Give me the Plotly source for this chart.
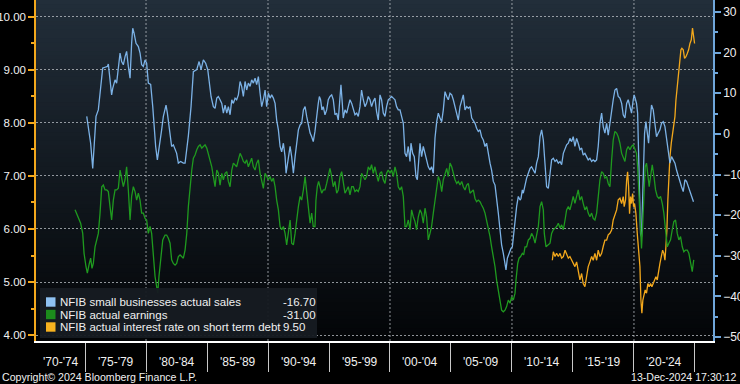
import plotly.graph_objects as go

# ---------------- data ----------------
series_names = [
    "NFIB small businesses actual sales",
    "NFIB actual earnings",
    "NFIB actual interest rate on short term debt",
]

# (year, value) - right axis
sales_points = [
    (1975.14, 4.3), (1975.35, 0.2), (1975.46, -2.3), (1975.63, -8.5), (1975.79, -1.5), (1975.90, 4.3),
    (1976.09, 5.9), (1976.23, 10.0), (1976.34, 14.1), (1976.45, 16.2), (1976.64, 16.4), (1976.83, 16.6),
    (1976.91, 17.2), (1977.05, 13.3), (1977.18, 9.6), (1977.27, 11.2), (1977.38, 12.9), (1977.46, 13.3),
    (1977.59, 12.5), (1977.73, 15.8), (1977.87, 19.9), (1978.00, 17.8), (1978.14, 17.0), (1978.28, 19.0),
    (1978.41, 20.3), (1978.55, 16.6), (1978.69, 13.7), (1978.82, 22.3), (1978.91, 26.0), (1979.02, 24.8),
    (1979.18, 22.3), (1979.37, 21.5), (1979.51, 19.9), (1979.64, 17.0), (1979.78, 16.6), (1979.92, 18.2),
    (1980.05, 17.4), (1980.19, 12.5), (1980.38, 12.2), (1980.55, 6.7), (1980.68, 0.2), (1980.79, -3.1),
    (1980.93, -6.4), (1981.04, -4.4), (1981.15, -2.3), (1981.28, 1.0), (1981.42, 4.3), (1981.64, 7.1),
    (1981.75, 5.1), (1981.86, 2.6), (1981.97, 0.2), (1982.10, -3.1), (1982.24, -2.7), (1982.38, -3.9),
    (1982.51, -4.8), (1982.65, -7.2), (1982.84, -6.8), (1983.06, -7.2), (1983.20, -7.2), (1983.47, -0.5),
    (1983.69, 6.7), (1983.88, 15.3), (1984.16, 15.8), (1984.35, 17.8), (1984.51, 15.8), (1984.70, 18.2),
    (1984.89, 17.4), (1985.06, 15.8), (1985.17, 12.5), (1985.33, 9.2), (1985.52, 6.7), (1985.66, 6.3),
    (1985.80, 8.8), (1985.93, 9.2), (1986.07, 8.4), (1986.21, 7.5), (1986.34, 5.1), (1986.48, 7.1),
    (1986.62, 5.1), (1986.75, 6.7), (1986.89, 4.7), (1987.03, 8.4), (1987.16, 7.5), (1987.30, 8.8),
    (1987.43, 8.4), (1987.57, 9.6), (1987.71, 12.9), (1987.84, 11.7), (1987.98, 9.2), (1988.12, 12.9),
    (1988.25, 10.8), (1988.39, 12.5), (1988.53, 11.7), (1988.66, 13.3), (1988.80, 12.5), (1988.94, 13.7),
    (1989.07, 12.1), (1989.21, 14.1), (1989.35, 10.0), (1989.48, 6.7), (1989.62, 8.4), (1989.76, 10.8),
    (1989.89, 6.7), (1990.03, 10.0), (1990.17, 8.8), (1990.30, 9.6), (1990.44, 8.8), (1990.58, 7.5),
    (1990.71, 3.4), (1990.85, 1.0), (1990.99, -3.1), (1991.12, -4.4), (1991.26, -2.3), (1991.40, -5.6),
    (1991.48, -9.7), (1991.62, -6.4), (1991.81, -3.1), (1991.94, -5.6), (1992.08, -9.7), (1992.22, -5.6),
    (1992.35, -1.5), (1992.49, 1.0), (1992.63, 2.2), (1992.76, 2.6), (1992.90, 5.9), (1993.04, 6.7),
    (1993.17, 4.3), (1993.31, 1.8), (1993.45, 0.2), (1993.58, -0.7), (1993.71, -1.9), (1993.85, 0.6),
    (1993.99, 5.1), (1994.12, 7.5), (1994.21, 9.2), (1994.31, 8.4), (1994.42, 5.9), (1994.53, 6.7),
    (1994.67, 4.7), (1994.81, 5.9), (1994.94, 8.4), (1995.08, 9.2), (1995.22, 9.6), (1995.35, 8.4),
    (1995.49, 4.7), (1995.63, 5.1), (1995.76, 3.4), (1995.90, 8.4), (1995.98, 12.1), (1996.09, 7.5),
    (1996.17, 3.9), (1996.31, 5.9), (1996.45, 5.1), (1996.58, 6.7), (1996.72, 8.4), (1996.86, 7.5),
    (1996.99, 5.9), (1997.13, 4.7), (1997.27, 5.1), (1997.40, 4.3), (1997.54, 6.7), (1997.67, 10.8),
    (1997.81, 8.4), (1997.95, 6.7), (1998.08, 7.5), (1998.22, 9.2), (1998.36, 8.4), (1998.49, 6.7),
    (1998.63, 8.0), (1998.77, 8.8), (1998.90, 5.5), (1999.04, 3.4), (1999.18, 9.6), (1999.31, 8.4),
    (1999.45, 5.1), (1999.59, 4.3), (1999.72, 6.7), (1999.86, 8.4), (2000.00, 8.8), (2000.13, 9.2),
    (2000.27, 8.8), (2000.41, 8.4), (2000.54, 6.7), (2000.68, 5.9), (2000.82, 5.9), (2000.95, 4.3),
    (2001.09, 2.6), (2001.23, -4.8), (2001.36, -5.6), (2001.50, -3.1), (2001.64, -6.8), (2001.72, -2.3),
    (2001.86, -4.8), (2001.99, -5.6), (2002.13, -10.5), (2002.24, -11.3), (2002.35, -6.4), (2002.46, -2.3),
    (2002.59, -5.6), (2002.73, -3.1), (2002.87, -4.8), (2003.00, -6.4), (2003.14, -8.1), (2003.28, -8.9),
    (2003.41, -8.1), (2003.55, -9.7), (2003.69, -1.0), (2003.83, 3.0), (2003.96, 5.1), (2004.10, 3.9),
    (2004.24, 3.0), (2004.37, 5.9), (2004.51, 10.4), (2004.65, 9.2), (2004.78, 8.4), (2004.92, 10.0),
    (2005.06, 9.6), (2005.19, 8.4), (2005.33, 6.7), (2005.47, 4.7), (2005.60, 3.4), (2005.74, 6.7),
    (2005.88, 8.4), (2006.01, 9.6), (2006.15, 5.9), (2006.29, 6.7), (2006.42, 6.3), (2006.56, 6.7),
    (2006.70, 3.9), (2006.83, 3.4), (2006.97, 2.6), (2007.10, 1.4), (2007.24, 0.6), (2007.38, 1.0),
    (2007.51, -0.7), (2007.65, -1.5), (2007.79, -3.1), (2007.92, -2.3), (2008.06, -5.2), (2008.20, -7.2),
    (2008.33, -8.9), (2008.47, -11.7), (2008.61, -12.6), (2008.74, -15.4), (2008.88, -19.5), (2009.02, -23.6),
    (2009.15, -27.3), (2009.29, -29.4), (2009.43, -31.9), (2009.51, -33.5), (2009.62, -30.6), (2009.76, -29.4),
    (2009.92, -28.2), (2010.03, -27.8), (2010.14, -24.5), (2010.25, -22.8), (2010.38, -17.9), (2010.52, -15.4),
    (2010.66, -16.3), (2010.74, -15.9), (2010.85, -13.8), (2010.93, -14.6), (2011.07, -12.2), (2011.20, -10.9),
    (2011.34, -9.7), (2011.48, -8.5), (2011.61, -8.1), (2011.75, -8.9), (2011.89, -9.7), (2012.02, -7.2),
    (2012.16, -5.6), (2012.30, -0.7), (2012.43, 1.0), (2012.57, -1.5), (2012.71, -8.9), (2012.84, -13.0),
    (2012.98, -13.4), (2013.12, -9.7), (2013.25, -6.4), (2013.39, -6.0), (2013.53, -6.8), (2013.66, -6.4),
    (2013.80, -7.2), (2013.94, -6.8), (2014.07, -7.6), (2014.21, -4.8), (2014.35, -3.9), (2014.48, -2.7),
    (2014.62, -2.3), (2014.75, -1.1), (2014.89, -1.9), (2015.02, -0.7), (2015.16, -3.1), (2015.30, -1.1),
    (2015.43, -2.3), (2015.57, -3.9), (2015.71, -3.5), (2015.84, -5.2), (2015.98, -4.8), (2016.12, -5.6),
    (2016.25, -6.4), (2016.39, -6.0), (2016.53, -6.8), (2016.66, -6.4), (2016.80, -6.8), (2016.94, -6.4),
    (2017.07, -3.1), (2017.21, 2.6), (2017.35, 5.1), (2017.48, 1.8), (2017.62, 0.2), (2017.76, 2.6),
    (2017.89, -0.3), (2018.03, 2.6), (2018.17, 5.9), (2018.30, 8.4), (2018.44, 10.8), (2018.58, 11.2),
    (2018.71, 9.2), (2018.85, 8.8), (2018.99, 7.5), (2019.12, 4.7), (2019.26, 3.9), (2019.40, 7.5),
    (2019.53, 8.4), (2019.67, 6.7), (2019.80, 5.1), (2019.94, 8.4), (2020.02, 9.6), (2020.13, 8.4),
    (2020.21, 7.5), (2020.30, 5.1), (2020.38, -8.1), (2020.46, -16.3), (2020.54, -24.5), (2020.62, -25.3),
    (2020.71, -16.3), (2020.79, -6.4), (2020.87, 0.2), (2020.98, 3.0), (2021.09, 0.2), (2021.20, -2.3),
    (2021.31, 2.6), (2021.44, 7.1), (2021.58, 5.9), (2021.72, 1.8), (2021.85, -0.7), (2021.99, 0.2),
    (2022.13, 1.0), (2022.26, 2.6), (2022.40, 3.0), (2022.54, 1.8), (2022.67, -0.7), (2022.81, -3.9),
    (2022.95, -7.2), (2023.08, -5.6), (2023.22, -6.4), (2023.36, -7.2), (2023.49, -8.9), (2023.63, -10.5),
    (2023.77, -11.7), (2023.90, -13.0), (2024.04, -14.2), (2024.18, -11.3), (2024.31, -11.7), (2024.45, -13.0),
    (2024.59, -14.2), (2024.72, -15.4), (2024.88, -16.7),
]

earnings_points = [
    (1974.18, -18.7), (1974.45, -20.4), (1974.64, -22.0), (1974.81, -24.5), (1974.92, -29.4), (1975.08, -32.7),
    (1975.19, -34.3), (1975.35, -31.9), (1975.46, -30.6), (1975.57, -33.1), (1975.68, -31.9), (1975.82, -27.8),
    (1975.96, -26.1), (1976.09, -24.5), (1976.23, -19.5), (1976.37, -13.0), (1976.50, -12.6), (1976.64, -13.8),
    (1976.78, -13.8), (1976.91, -14.2), (1977.05, -17.9), (1977.18, -21.2), (1977.32, -16.3), (1977.46, -13.8),
    (1977.59, -13.8), (1977.73, -13.4), (1977.87, -8.9), (1978.00, -11.3), (1978.14, -13.0), (1978.28, -11.3),
    (1978.41, -8.1), (1978.55, -13.8), (1978.69, -21.2), (1978.82, -15.4), (1978.96, -13.0), (1979.10, -14.2),
    (1979.23, -16.3), (1979.37, -14.6), (1979.51, -16.3), (1979.64, -19.5), (1979.78, -19.5), (1979.92, -20.8),
    (1980.05, -21.2), (1980.19, -24.5), (1980.33, -22.8), (1980.46, -24.5), (1980.60, -31.0), (1980.74, -35.1),
    (1980.87, -37.6), (1980.96, -39.2), (1981.06, -35.1), (1981.20, -30.2), (1981.37, -26.1), (1981.56, -24.9),
    (1981.69, -24.9), (1981.83, -25.7), (1981.97, -26.9), (1982.10, -31.0), (1982.24, -31.9), (1982.38, -32.3),
    (1982.51, -31.9), (1982.65, -30.2), (1982.79, -29.8), (1982.92, -30.2), (1983.06, -30.6), (1983.20, -28.6),
    (1983.34, -24.5), (1983.47, -17.9), (1983.61, -13.0), (1983.75, -8.9), (1983.88, -6.0), (1984.02, -5.2),
    (1984.16, -3.9), (1984.29, -3.1), (1984.43, -2.7), (1984.57, -3.5), (1984.70, -3.1), (1984.84, -2.7),
    (1984.98, -3.5), (1985.11, -4.8), (1985.25, -6.4), (1985.39, -8.1), (1985.52, -10.5), (1985.66, -13.0),
    (1985.80, -8.9), (1985.93, -9.7), (1986.07, -12.6), (1986.21, -9.7), (1986.34, -11.3), (1986.48, -9.7),
    (1986.62, -9.3), (1986.75, -11.7), (1986.89, -13.0), (1987.03, -8.9), (1987.16, -7.2), (1987.30, -7.6),
    (1987.43, -8.1), (1987.57, -6.4), (1987.71, -4.8), (1987.84, -5.6), (1987.98, -6.8), (1988.12, -7.2),
    (1988.25, -6.4), (1988.39, -8.1), (1988.53, -6.8), (1988.66, -6.0), (1988.80, -8.1), (1988.94, -8.9),
    (1989.07, -7.2), (1989.21, -6.4), (1989.35, -9.7), (1989.48, -11.3), (1989.62, -13.4), (1989.76, -9.7),
    (1989.89, -10.5), (1990.03, -11.3), (1990.17, -10.5), (1990.30, -11.7), (1990.44, -10.9), (1990.58, -13.0),
    (1990.71, -16.3), (1990.85, -18.7), (1990.99, -22.8), (1991.12, -23.6), (1991.26, -22.8), (1991.40, -24.5),
    (1991.53, -27.3), (1991.67, -23.6), (1991.81, -21.2), (1991.94, -26.9), (1992.08, -27.3), (1992.22, -24.5),
    (1992.35, -20.4), (1992.49, -17.9), (1992.63, -15.4), (1992.76, -16.3), (1992.90, -13.8), (1993.04, -10.5),
    (1993.17, -14.2), (1993.31, -17.9), (1993.45, -22.0), (1993.58, -19.5), (1993.71, -22.8), (1993.85, -22.8),
    (1993.93, -16.3), (1994.04, -13.0), (1994.15, -11.7), (1994.26, -13.0), (1994.40, -14.6), (1994.53, -13.8),
    (1994.67, -13.8), (1994.81, -12.2), (1994.94, -10.5), (1995.08, -8.5), (1995.22, -10.5), (1995.35, -13.0),
    (1995.49, -11.7), (1995.63, -14.6), (1995.76, -13.8), (1995.90, -10.5), (1996.04, -9.3), (1996.17, -12.6),
    (1996.31, -14.6), (1996.45, -13.8), (1996.58, -13.0), (1996.72, -15.0), (1996.86, -13.0), (1996.99, -13.0),
    (1997.13, -14.2), (1997.27, -13.8), (1997.40, -14.2), (1997.54, -13.0), (1997.67, -9.7), (1997.81, -10.5),
    (1997.95, -11.3), (1998.08, -10.5), (1998.22, -8.1), (1998.36, -8.9), (1998.49, -7.6), (1998.63, -9.7),
    (1998.77, -8.1), (1998.90, -10.1), (1999.04, -11.7), (1999.18, -9.7), (1999.31, -9.3), (1999.45, -11.3),
    (1999.59, -12.2), (1999.72, -9.7), (1999.86, -8.9), (2000.00, -9.7), (2000.13, -8.9), (2000.27, -10.5),
    (2000.41, -8.1), (2000.54, -9.7), (2000.68, -13.0), (2000.82, -13.8), (2000.95, -13.0), (2001.09, -15.4),
    (2001.23, -22.8), (2001.36, -22.8), (2001.50, -21.2), (2001.64, -23.6), (2001.77, -18.7), (2001.91, -20.4),
    (2002.05, -21.6), (2002.18, -23.6), (2002.32, -20.4), (2002.46, -18.7), (2002.59, -19.5), (2002.73, -22.0),
    (2002.87, -18.3), (2003.00, -20.4), (2003.14, -26.1), (2003.28, -24.5), (2003.41, -22.8), (2003.55, -19.5),
    (2003.69, -16.3), (2003.83, -13.8), (2003.96, -10.5), (2004.10, -11.7), (2004.24, -14.2), (2004.37, -11.3),
    (2004.51, -9.7), (2004.65, -8.5), (2004.78, -10.5), (2004.92, -7.2), (2005.06, -8.1), (2005.19, -9.7),
    (2005.33, -11.3), (2005.47, -12.2), (2005.60, -11.7), (2005.74, -12.6), (2005.88, -11.7), (2006.01, -13.0),
    (2006.15, -13.8), (2006.29, -12.6), (2006.42, -12.2), (2006.56, -14.6), (2006.70, -14.2), (2006.83, -13.8),
    (2006.97, -15.9), (2007.10, -16.7), (2007.24, -16.3), (2007.38, -16.7), (2007.51, -17.5), (2007.65, -18.3),
    (2007.79, -19.5), (2007.92, -21.2), (2008.06, -23.2), (2008.20, -25.3), (2008.33, -27.8), (2008.47, -30.2),
    (2008.61, -32.7), (2008.74, -36.0), (2008.88, -38.4), (2009.02, -40.9), (2009.15, -43.4), (2009.29, -43.8),
    (2009.43, -43.4), (2009.56, -42.5), (2009.70, -40.9), (2009.84, -41.7), (2009.97, -40.1), (2010.11, -40.9),
    (2010.25, -39.2), (2010.33, -36.0), (2010.47, -31.9), (2010.58, -30.6), (2010.71, -30.2), (2010.85, -29.4),
    (2010.96, -29.8), (2011.07, -27.8), (2011.20, -27.8), (2011.34, -26.1), (2011.48, -25.7), (2011.61, -24.5),
    (2011.75, -25.3), (2011.89, -26.9), (2012.02, -24.5), (2012.16, -22.8), (2012.30, -17.9), (2012.43, -16.7),
    (2012.57, -18.7), (2012.65, -24.5), (2012.79, -27.8), (2012.98, -27.3), (2013.12, -26.9), (2013.25, -24.5),
    (2013.39, -23.6), (2013.53, -23.2), (2013.66, -22.8), (2013.80, -22.0), (2013.94, -23.2), (2014.07, -22.4),
    (2014.21, -23.6), (2014.35, -21.2), (2014.48, -18.7), (2014.62, -17.9), (2014.75, -18.7), (2014.89, -17.1),
    (2015.02, -15.4), (2015.16, -17.1), (2015.30, -15.4), (2015.43, -13.8), (2015.57, -16.3), (2015.71, -15.4),
    (2015.84, -17.1), (2015.98, -18.7), (2016.12, -17.9), (2016.25, -19.5), (2016.39, -20.4), (2016.53, -19.5),
    (2016.66, -20.8), (2016.80, -21.2), (2016.94, -19.5), (2017.07, -14.6), (2017.21, -11.3), (2017.35, -9.3),
    (2017.48, -9.7), (2017.62, -10.9), (2017.76, -10.5), (2017.89, -12.2), (2018.03, -13.0), (2018.17, -6.4),
    (2018.30, -1.5), (2018.44, 0.6), (2018.58, 0.2), (2018.71, -0.7), (2018.85, -2.3), (2018.99, -4.8),
    (2019.12, -5.6), (2019.26, -6.8), (2019.40, -3.9), (2019.53, -3.1), (2019.67, -3.9), (2019.80, -3.1),
    (2019.94, -2.7), (2020.08, -3.9), (2020.21, -4.8), (2020.30, -8.1), (2020.38, -13.0), (2020.46, -19.5),
    (2020.54, -24.5), (2020.62, -28.2), (2020.71, -22.8), (2020.82, -13.0), (2020.92, -8.1), (2021.03, -7.2),
    (2021.14, -10.5), (2021.25, -13.0), (2021.36, -10.5), (2021.50, -7.6), (2021.64, -10.5), (2021.77, -13.8),
    (2021.91, -15.4), (2022.05, -15.9), (2022.18, -15.4), (2022.32, -17.1), (2022.45, -19.5), (2022.59, -24.5),
    (2022.73, -27.8), (2022.86, -26.9), (2023.00, -26.1), (2023.14, -23.6), (2023.27, -21.6), (2023.41, -21.2),
    (2023.55, -24.5), (2023.68, -26.1), (2023.82, -25.3), (2023.96, -27.8), (2024.09, -29.0), (2024.23, -28.6),
    (2024.37, -28.6), (2024.50, -29.4), (2024.64, -31.9), (2024.78, -33.9), (2024.90, -31.0),
]

# (year, percent) - left axis
rate_points = [
    (2013.31, 5.41), (2013.39, 5.57), (2013.53, 5.48), (2013.66, 5.54), (2013.80, 5.48), (2013.94, 5.54),
    (2014.07, 5.45), (2014.21, 5.48), (2014.35, 5.60), (2014.48, 5.51), (2014.62, 5.45), (2014.75, 5.48),
    (2014.89, 5.41), (2015.02, 5.35), (2015.16, 5.29), (2015.30, 5.38), (2015.43, 5.23), (2015.57, 5.04),
    (2015.71, 5.16), (2015.84, 4.97), (2015.98, 4.91), (2016.12, 5.10), (2016.25, 5.29), (2016.39, 5.38),
    (2016.53, 5.48), (2016.66, 5.41), (2016.80, 5.54), (2016.94, 5.41), (2017.07, 5.60), (2017.21, 5.48),
    (2017.35, 5.54), (2017.48, 5.67), (2017.62, 5.79), (2017.76, 5.79), (2017.89, 5.89), (2018.03, 5.92),
    (2018.17, 5.98), (2018.30, 6.17), (2018.44, 6.29), (2018.58, 6.36), (2018.71, 6.55), (2018.85, 6.58),
    (2018.99, 6.48), (2019.12, 6.61), (2019.20, 6.42), (2019.31, 6.55), (2019.40, 6.92), (2019.48, 7.08),
    (2019.56, 6.80), (2019.64, 6.29), (2019.72, 6.61), (2019.80, 6.48), (2019.89, 6.67), (2019.97, 6.42),
    (2020.05, 6.48), (2020.16, 6.29), (2020.27, 5.92), (2020.38, 5.54), (2020.49, 5.29), (2020.57, 4.66),
    (2020.65, 4.41), (2020.73, 4.66), (2020.82, 4.79), (2020.92, 4.85), (2021.03, 4.79), (2021.14, 4.97),
    (2021.25, 4.91), (2021.36, 4.97), (2021.47, 4.91), (2021.58, 4.97), (2021.69, 5.04), (2021.80, 5.10),
    (2021.91, 5.04), (2022.02, 5.23), (2022.13, 5.35), (2022.24, 5.48), (2022.35, 5.60), (2022.45, 5.54),
    (2022.54, 5.41), (2022.62, 5.67), (2022.70, 5.98), (2022.78, 6.55), (2022.86, 7.05), (2022.95, 7.36),
    (2023.06, 7.62), (2023.17, 7.80), (2023.27, 7.99), (2023.36, 8.12), (2023.44, 8.43), (2023.52, 8.62),
    (2023.60, 8.81), (2023.68, 9.06), (2023.77, 9.25), (2023.85, 9.38), (2023.93, 9.41), (2024.04, 9.38),
    (2024.15, 9.22), (2024.26, 9.25), (2024.37, 9.31), (2024.48, 9.38), (2024.59, 9.50), (2024.70, 9.57),
    (2024.80, 9.79), (2024.89, 9.63), (2024.97, 9.50),
]

sales_years, sales_values = map(list, zip(*sales_points))
earn_years, earn_values = map(list, zip(*earnings_points))
rate_years, rate_values = map(list, zip(*rate_points))

period_starts = [1970, 1975, 1980, 1985, 1990, 1995, 2000, 2005, 2010, 2015, 2020]
period_ends = [1975, 1980, 1985, 1990, 1995, 2000, 2005, 2010, 2015, 2020, 2025]
period_labels = ["'70-'74", "'75-'79", "'80-'84", "'85-'89", "'90-'94", "'95-'99",
                 "'00-'04", "'05-'09", "'10-'14", "'15-'19", "'20-'24"]
decade_grid = [1980, 1990, 2000, 2010, 2020]
left_ticks = [4, 5, 6, 7, 8, 9, 10]
right_ticks = [-50, -40, -30, -20, -10, 0, 10, 20, 30]

# ---------------- style ----------------
W, H = 740, 384
PL, PR, PT, PB = 36, 713, 0, 341          # plot area in pixels
X_RANGE = [1970.98, 2026.48]
LEFT_RANGE = [3.887, 10.32]
RIGHT_RANGE = [-50.98, 32.95]

C_SALES = "#7cb2e6"
C_EARN = "#1f9a1f"
C_RATE = "#f3a81c"
SQ_SALES = "#8fc2f2"
SQ_EARN = "#1c8c1c"
SQ_RATE = "#f7b21f"
C_GRID = "rgba(190,195,200,0.75)"
FONT = "Liberation Sans, Arial, sans-serif"
TXT = "#f0f0f0"


def fx(px):
    return (px - PL) / (PR - PL)


def fy(py):
    return (PB - py) / (PB - PT)


fig = go.Figure()
fig.add_trace(go.Scatter(x=sales_years, y=sales_values, mode="lines", yaxis="y2",
                         line=dict(color=C_SALES, width=1.3), name=series_names[0], showlegend=False))
fig.add_trace(go.Scatter(x=earn_years, y=earn_values, mode="lines", yaxis="y2",
                         line=dict(color=C_EARN, width=1.3), name=series_names[1], showlegend=False))
fig.add_trace(go.Scatter(x=rate_years, y=rate_values, mode="lines", yaxis="y",
                         line=dict(color=C_RATE, width=1.3), name=series_names[2], showlegend=False))

# gradient plot background
N = 80
top = (34, 46, 58)
bot = (3, 5, 7)
for i in range(N):
    t = (i + 0.5) / N
    c = tuple(round(top[k] + (bot[k] - top[k]) * t) for k in range(3))
    fig.add_shape(type="rect", xref="paper", yref="paper", x0=0, x1=1,
                  y0=max(0, 1 - (i + 1) / N - 0.003), y1=1 - i / N,
                  fillcolor="rgb(%d,%d,%d)" % c, line_width=0, layer="below")

# vertical dotted decade grid
for yr in decade_grid:
    fig.add_shape(type="line", xref="x", yref="paper", x0=yr, x1=yr, y0=0, y1=1,
                  line=dict(color=C_GRID, width=1, dash="2px,2px"), layer="below")

# period labels under the axis
for s, e, lab in zip(period_starts, period_ends, period_labels):
    a = max(s, X_RANGE[0])
    b = min(e, X_RANGE[1])
    fig.add_annotation(x=(a + b) / 2, xref="x", y=fy(362), yref="paper", text=lab,
                       showarrow=False, xanchor="center", yanchor="middle",
                       font=dict(family=FONT, size=12, color=TXT))

# legend box (manual, Bloomberg style with last values)
fig.add_shape(type="rect", xref="paper", yref="paper", x0=fx(40), x1=fx(317), y0=fy(338), y1=fy(288),
              fillcolor="rgba(22,27,33,0.96)", line_width=0, layer="above")
rows_y = [302, 314.5, 327]
sq_colors = [SQ_SALES, SQ_EARN, SQ_RATE]
last_vals = [sales_values[-1], earn_values[-1], rate_values[-1]]
for ry, col, name, val in zip(rows_y, sq_colors, series_names, last_vals):
    fig.add_shape(type="rect", xref="paper", yref="paper", x0=fx(46), x1=fx(55.5),
                  y0=fy(ry + 4.7), y1=fy(ry - 4.7), fillcolor=col, line_width=0, layer="above")
    fig.add_annotation(x=fx(58), xref="paper", y=fy(ry), yref="paper", text=name, showarrow=False,
                       xanchor="left", yanchor="middle", font=dict(family=FONT, size=11.5, color=TXT))
    fig.add_annotation(x=fx(281), xref="paper", y=fy(ry), yref="paper", text="%.2f" % val,
                       showarrow=False, xanchor="left", yanchor="middle",
                       font=dict(family=FONT, size=11.5, color=TXT))

# footer texts
fig.add_annotation(x=fx(0), xref="paper", y=fy(377), yref="paper",
                   text="Copyright\u00a9 2024 Bloomberg Finance L.P.", showarrow=False,
                   xanchor="left", yanchor="middle", font=dict(family=FONT, size=10.6, color=TXT))
fig.add_annotation(x=fx(739), xref="paper", y=fy(377), yref="paper",
                   text="13-Dec-2024 17:30:12", showarrow=False,
                   xanchor="right", yanchor="middle", font=dict(family=FONT, size=10.6, color=TXT))

fig.update_layout(
    width=W, height=H,
    margin=dict(l=PL, r=W - PR, t=PT, b=H - PB, autoexpand=False),
    paper_bgcolor="#000000", plot_bgcolor="rgba(0,0,0,0)",
    showlegend=False, hovermode=False,
    xaxis=dict(range=X_RANGE, tickmode="array", tickvals=period_ends, showticklabels=False,
               ticks="outside", ticklen=29, tickcolor="#c8c8c8", tickwidth=1,
               showline=True, linecolor="#ffffff", linewidth=1.5,
               showgrid=False, zeroline=False, fixedrange=True),
    yaxis=dict(range=LEFT_RANGE, tickmode="array", tickvals=left_ticks,
               ticktext=["%.2f" % v for v in left_ticks],
               ticks="outside", ticklen=6, tickwidth=2, tickcolor=C_RATE,
               minor=dict(ticks="outside", ticklen=3, tickcolor=C_RATE, dtick=0.5, tick0=4, showgrid=False),
               showline=True, linecolor=C_RATE, linewidth=1.5,
               showgrid=True, gridcolor=C_GRID, griddash="2px,2px", gridwidth=1,
               zeroline=False, tickfont=dict(family=FONT, size=11.5, color=TXT), automargin=False),
    yaxis2=dict(range=RIGHT_RANGE, overlaying="y", side="right", tickmode="array", tickvals=right_ticks,
                ticks="outside", ticklen=6, tickwidth=2, tickcolor="#6fa6da",
                minor=dict(ticks="outside", ticklen=3, tickcolor="#6fa6da", dtick=5, tick0=0, showgrid=False),
                showline=True, linecolor="#6fa6da", linewidth=1.5,
                showgrid=False, zeroline=False,
                tickfont=dict(family=FONT, size=12, color=TXT), automargin=False),
)

fig.write_html(
    "out.html",
    config={"displayModeBar": False},
    post_script="document.body.style.margin='0';document.body.style.padding='0';"
                "document.body.style.background='#000';",
)
